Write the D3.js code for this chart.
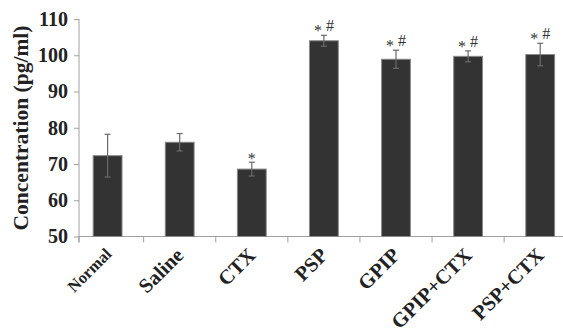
<!DOCTYPE html>
<html><head><meta charset="utf-8">
<script src="https://cdn.jsdelivr.net/npm/d3@7"></script>
<style>html,body{margin:0;padding:0;background:#fff;}svg{display:block;font-family:"Liberation Serif","Times New Roman",serif;}</style>
</head><body><svg id="c" width="563" height="332"></svg>
<script>
const categories = ["Normal","Saline","CTX","PSP","GPIP","GPIP+CTX","PSP+CTX"];
const means = [72.3, 76.0, 68.6, 104.0, 98.9, 99.7, 100.2];
const errors = [5.9, 2.4, 1.9, 1.5, 2.5, 1.5, 3.1];
const marks = ["", "", "*", "*#", "*#", "*#", "*#"];
const yTicks = [50,60,70,80,90,100,110];
const yLabel = "Concentration (pg/ml)";

const svg = d3.select("#c");
const x = d3.scaleBand().domain(categories).range([71.55, 576.25]).paddingInner(0.6).paddingOuter(0.3);
const y = d3.scaleLinear().domain([50,110]).range([236.5, 19]);
const axisColor = "#a0a0a0";
const step = x.step();

// y axis
const yAxis = svg.append("g").attr("transform","translate(79,0)")
  .call(d3.axisLeft(y).tickValues(yTicks).tickSize(5).tickPadding(6).tickFormat(d3.format("d")));
yAxis.select(".domain").attr("stroke",axisColor).attr("d",`M0,${y(110)}V${y(50)+6}`);
yAxis.selectAll(".tick line").attr("stroke",axisColor);
yAxis.selectAll(".tick text").attr("fill","#222").attr("font-size","20px").attr("font-weight","bold")
  .attr("font-family","Liberation Serif");

// x axis
const boundaries = [79].concat(categories.map(c => x(c) + x.bandwidth() + (step - x.bandwidth())/2));
svg.append("line").attr("x1",79).attr("x2",563).attr("y1",y(50)).attr("y2",y(50)).attr("stroke",axisColor);
svg.selectAll(".xt").data(boundaries).enter().append("line")
  .attr("x1",d=>d).attr("x2",d=>d).attr("y1",y(50)).attr("y2",y(50)+6).attr("stroke",axisColor);

// bars
const data = categories.map((c,i)=>({c, m:means[i], e:errors[i], k:marks[i]}));
svg.selectAll(".bar").data(data).enter().append("rect")
  .attr("x",d=>x(d.c)).attr("width",x.bandwidth())
  .attr("y",d=>y(d.m)).attr("height",d=>y(50)-y(d.m))
  .attr("fill","#333").attr("stroke","#8a8a8a").attr("stroke-width",1);

// error bars
const eg = svg.selectAll(".err").data(data).enter().append("g").attr("stroke","#6a6a6a").attr("stroke-width",1.2);
eg.append("line").attr("x1",d=>x(d.c)+x.bandwidth()/2).attr("x2",d=>x(d.c)+x.bandwidth()/2)
  .attr("y1",d=>y(d.m+d.e)).attr("y2",d=>y(d.m-d.e));
eg.append("line").attr("x1",d=>x(d.c)+x.bandwidth()/2-3).attr("x2",d=>x(d.c)+x.bandwidth()/2+3)
  .attr("y1",d=>y(d.m+d.e)).attr("y2",d=>y(d.m+d.e));
eg.append("line").attr("x1",d=>x(d.c)+x.bandwidth()/2-3).attr("x2",d=>x(d.c)+x.bandwidth()/2+3)
  .attr("y1",d=>y(d.m-d.e)).attr("y2",d=>y(d.m-d.e));

// significance marks
data.forEach(d=>{
  if(!d.k) return;
  const cx = x(d.c)+x.bandwidth()/2;
  const top = y(d.m+d.e);
  const g = svg.append("g").attr("font-size","16px").attr("fill","#333").attr("font-family","Liberation Serif");
  if(d.k.length===1){
    g.append("text").attr("x",cx).attr("y",top+2).attr("text-anchor","middle").text("*");
  } else {
    g.append("text").attr("x",cx-6).attr("y",top+1).attr("text-anchor","middle").text("*");
    g.append("text").attr("x",cx+6).attr("y",top-4).attr("text-anchor","middle").text("#");
  }
});

// x labels
const fsOf = c => c==="Normal"?16.5:20.5;
svg.selectAll(".xl").data(categories).enter().append("text")
  .attr("transform",c=>`translate(${x(c)+x.bandwidth()/2+5},${c==="Normal"?255:256.5}) rotate(-45)`)
  .attr("text-anchor","end")
  .attr("font-size",c=>fsOf(c)+"px").attr("font-weight","bold").attr("fill","#222")
  .text(c=>c);

// y title
svg.append("text").attr("transform","translate(28,128) rotate(-90)")
  .attr("text-anchor","middle").attr("font-size","21.5px").attr("font-weight","bold").attr("fill","#222")
  .text(yLabel);
</script></body></html>
